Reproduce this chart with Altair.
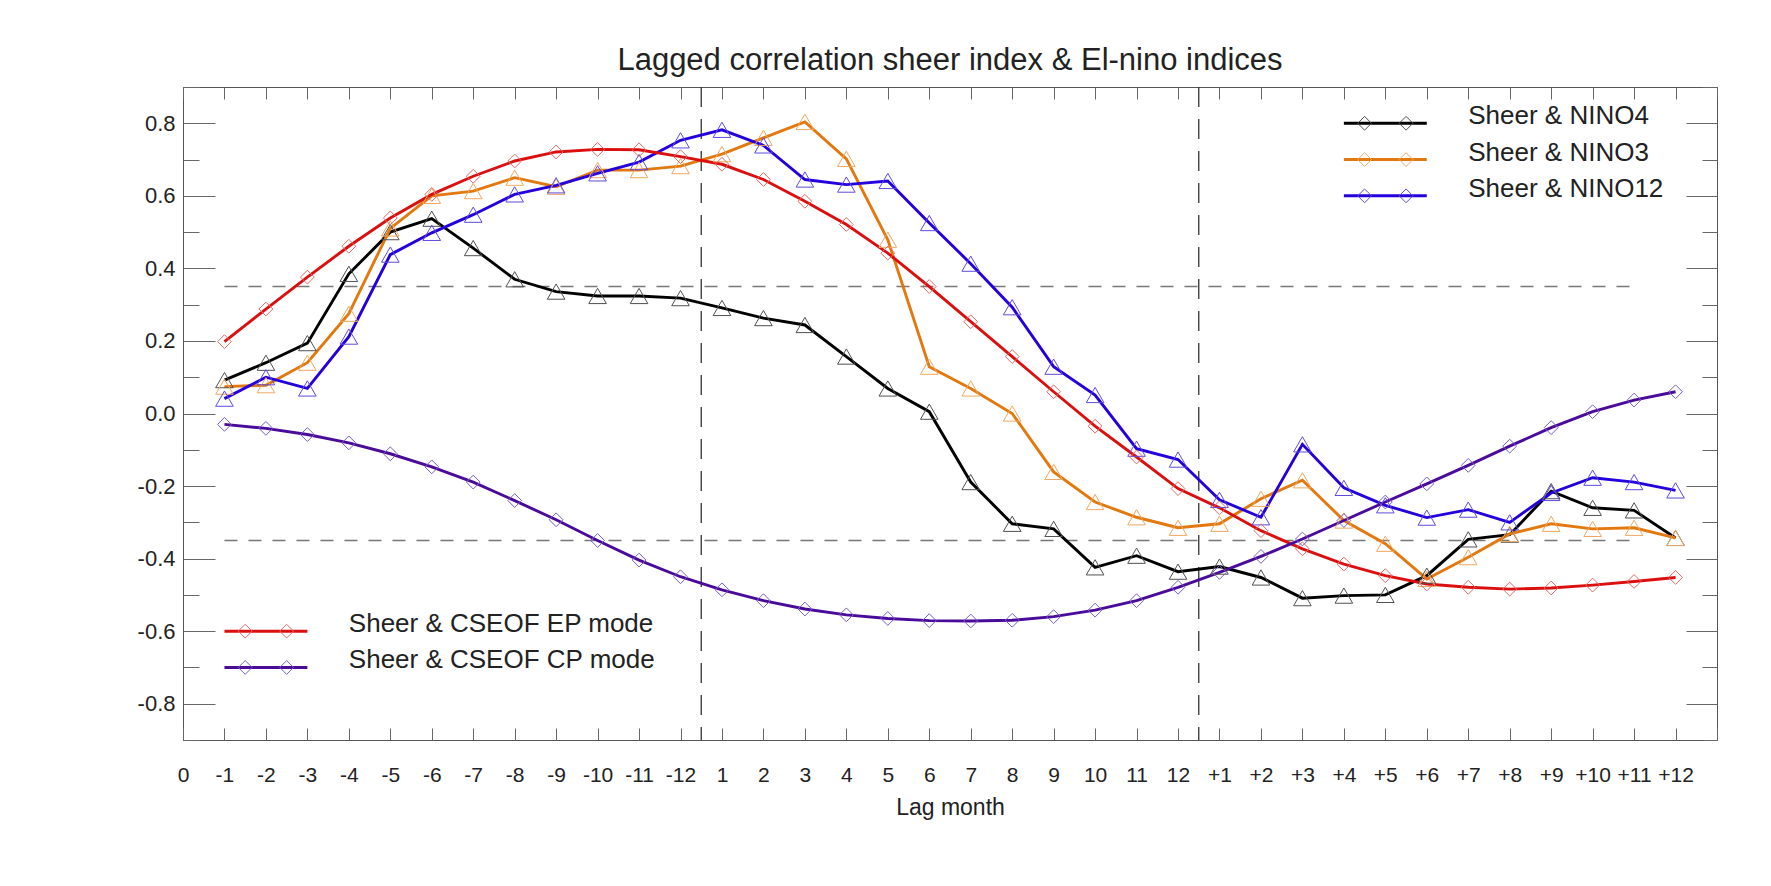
import altair as alt
import pandas as pd

# ---------------- data ----------------
TICK_LABELS = ["0",
               "-1", "-2", "-3", "-4", "-5", "-6", "-7", "-8", "-9", "-10", "-11", "-12",
               "1", "2", "3", "4", "5", "6", "7", "8", "9", "10", "11", "12",
               "+1", "+2", "+3", "+4", "+5", "+6", "+7", "+8", "+9", "+10", "+11", "+12"]

SERIES = ["Sheer & NINO4", "Sheer & NINO3", "Sheer & NINO12",
          "Sheer & CSEOF EP mode", "Sheer & CSEOF CP mode"]

NINO4 = [0.092, 0.140, 0.194, 0.385, 0.500, 0.537, 0.456, 0.370, 0.336, 0.324, 0.324, 0.318,
         0.291, 0.263, 0.244, 0.157, 0.069, 0.005, -0.189, -0.304, -0.318, -0.424, -0.392, -0.436,
         -0.422, -0.452, -0.509, -0.502, -0.500, -0.447, -0.347, -0.334, -0.214, -0.260, -0.267, -0.343]
NINO3 = [0.074, 0.078, 0.140, 0.275, 0.510, 0.600, 0.613, 0.650, 0.625, 0.671, 0.671, 0.682,
         0.715, 0.760, 0.804, 0.702, 0.479, 0.129, 0.069, 0.000, -0.161, -0.244, -0.286, -0.315,
         -0.304, -0.235, -0.184, -0.295, -0.359, -0.456, -0.396, -0.332, -0.304, -0.318, -0.315, -0.343]
NINO12 = [0.041, 0.100, 0.069, 0.212, 0.438, 0.498, 0.548, 0.604, 0.629, 0.662, 0.693, 0.753,
          0.782, 0.739, 0.645, 0.631, 0.641, 0.525, 0.413, 0.293, 0.129, 0.051, -0.097, -0.127,
          -0.238, -0.286, -0.085, -0.205, -0.253, -0.287, -0.265, -0.300, -0.219, -0.177, -0.189, -0.212]
EP_MODE = [0.198, 0.288, 0.376, 0.461, 0.539, 0.604, 0.654, 0.696, 0.721, 0.728, 0.727, 0.708,
           0.687, 0.645, 0.585, 0.521, 0.442, 0.350, 0.253, 0.157, 0.060, -0.035, -0.120, -0.207,
           -0.260, -0.323, -0.373, -0.415, -0.447, -0.470, -0.479, -0.484, -0.481, -0.473, -0.463, -0.452]
CP_MODE = [-0.030, -0.041, -0.058, -0.081, -0.111, -0.147, -0.189, -0.240, -0.293, -0.350, -0.404, -0.450,
           -0.486, -0.516, -0.539, -0.555, -0.565, -0.571, -0.572, -0.570, -0.560, -0.542, -0.516, -0.479,
           -0.438, -0.394, -0.346, -0.295, -0.244, -0.194, -0.143, -0.090, -0.039, 0.005, 0.037, 0.060]

THRESHOLDS = [0.35, -0.35]
SEPARATORS = [12.5, 24.5]
Y_MAJOR = [-0.8, -0.6, -0.4, -0.2, 0.0, 0.2, 0.4, 0.6, 0.8]
Y_MINOR = [-0.9, -0.7, -0.5, -0.3, -0.1, 0.1, 0.3, 0.5, 0.7, 0.9]
TRIANGLE_SERIES = SERIES[:3]
DIAMOND_SERIES = SERIES[3:]

# ---------------- styles / layout ----------------
FONT = "Liberation Sans"
TEXT_C = "#222222"
AXIS_C = "#555555"
LINE_COLORS = ["#000000", "#E3780F", "#2400DD", "#DC0F0F", "#4A0A9A"]
MARKER_COLORS = ["#505050", "#F0A860", "#5B4BE0", "#E06A6A", "#7A5CC8"]
W, H = 1534, 653
X_SCALE = alt.Scale(domain=[0, 37], nice=False, zero=False)
Y_SCALE = alt.Scale(domain=[-0.9, 0.9], nice=False, zero=False)

rows = []
for name, vals in zip(SERIES, [NINO4, NINO3, NINO12, EP_MODE, CP_MODE]):
    for i, v in enumerate(vals):
        rows.append({"series": name, "pos": i + 1, "lag": TICK_LABELS[i + 1], "r": v})
df = pd.DataFrame(rows)

# legend layout (in data units of the plot)
LEGEND_BLOCKS = [(SERIES[:3], 28, 0.8), (SERIES[3:], 1, -0.6)]
ROW_STEP = 0.1
leg_lines, leg_marks = [], []
for names, x0, y0 in LEGEND_BLOCKS:
    for k, nm in enumerate(names):
        y = y0 - k * ROW_STEP
        leg_lines.append({"series": nm, "x0": x0, "x1": x0 + 2, "xt": x0 + 3, "y": y})
        leg_marks.append({"series": nm, "xd": x0 + 0.5, "y": y})
        leg_marks.append({"series": nm, "xd": x0 + 1.5, "y": y})
leg_lines = pd.DataFrame(leg_lines)
leg_marks = pd.DataFrame(leg_marks)

color_scale = alt.Scale(domain=SERIES, range=LINE_COLORS)
stroke_scale = alt.Scale(domain=SERIES, range=MARKER_COLORS)

label_expr = str(TICK_LABELS).replace("'", '"') + "[datum.value]"

common_axis = dict(grid=False, domain=False, title=None)

# axes
ax_x_labels = alt.Axis(orient="bottom", values=list(range(0, 37)), labelExpr=label_expr,
                       ticks=False, tickSize=0, domain=False, grid=False, labelPadding=24,
                       labelFont=FONT, labelFontSize=21, labelColor=TEXT_C,
                       labelOverlap=False, labelFlush=False,
                       title="Lag month", titleFont=FONT, titleFontSize=23,
                       titleFontWeight="normal", titleColor=TEXT_C,
                       titleBaseline="alphabetic", titleY=74)
ax_y_labels = alt.Axis(orient="left", values=Y_MAJOR,
                       labelExpr="(datum.value < -0.001 ? '-' : '') + format(abs(datum.value), '.1f')",
                       ticks=False, tickSize=0, labelPadding=8,
                       labelFont=FONT, labelFontSize=22, labelColor=TEXT_C, **common_axis)


def tick_axis(orient, offset, values, size):
    return alt.Axis(orient=orient, offset=offset, values=values, labels=False, ticks=True,
                    tickSize=size, tickColor="#666666", tickWidth=1, **common_axis)


ax_x_bottom_ticks = tick_axis("top", -H, list(range(0, 38)), 12)
ax_x_top_ticks = tick_axis("bottom", -H, list(range(0, 38)), 12)
ax_y_left_major = tick_axis("right", -W, Y_MAJOR, 32)
ax_y_left_minor = tick_axis("right", -W, Y_MINOR, 16)
ax_y_right_major = tick_axis("left", -W, Y_MAJOR, 31)
ax_y_right_minor = tick_axis("left", -W, Y_MINOR, 15)


def carrier(xaxis, yaxis):
    return alt.Chart(df).mark_point(opacity=0).encode(
        x=alt.X("pos:Q", scale=X_SCALE, axis=xaxis),
        y=alt.Y("r:Q", scale=Y_SCALE, axis=yaxis),
    )


carriers = [
    carrier(ax_x_labels, ax_y_labels),
    carrier(ax_x_bottom_ticks, ax_y_left_major),
    carrier(ax_x_top_ticks, ax_y_left_minor),
    carrier(None, ax_y_right_major),
    carrier(None, ax_y_right_minor),
]

separators = alt.Chart(pd.DataFrame({"s": SEPARATORS})).mark_rule(
    color="#333333", strokeWidth=1.3, strokeDash=[20, 12]
).encode(x=alt.X("s:Q", scale=X_SCALE, axis=None))

thresholds = alt.Chart(pd.DataFrame({"t": THRESHOLDS})).mark_rule(
    color="#777777", strokeWidth=1.6, strokeDash=[13, 11]
).encode(
    y=alt.Y("t:Q", scale=Y_SCALE, axis=None),
    x=alt.XDatum(1, axis=None),
    x2=alt.X2Datum(35),
)

lines = alt.Chart(df).mark_line(strokeWidth=2.9).encode(
    x=alt.X("pos:Q", scale=X_SCALE, axis=None),
    y=alt.Y("r:Q", scale=Y_SCALE, axis=None),
    color=alt.Color("series:N", scale=color_scale, legend=None),
    order="pos:Q",
)

tri = alt.Chart(df).transform_filter(
    alt.FieldOneOfPredicate(field="series", oneOf=TRIANGLE_SERIES)
).mark_point(shape="triangle-up", filled=False, size=310, strokeWidth=1, opacity=1).encode(
    x=alt.X("pos:Q", scale=X_SCALE, axis=None),
    y=alt.Y("r:Q", scale=Y_SCALE, axis=None),
    stroke=alt.Stroke("series:N", scale=stroke_scale, legend=None),
)

dia = alt.Chart(df).transform_filter(
    alt.FieldOneOfPredicate(field="series", oneOf=DIAMOND_SERIES)
).mark_point(shape="diamond", filled=False, size=190, strokeWidth=1, opacity=1).encode(
    x=alt.X("pos:Q", scale=X_SCALE, axis=None),
    y=alt.Y("r:Q", scale=Y_SCALE, axis=None),
    stroke=alt.Stroke("series:N", scale=stroke_scale, legend=None),
)

leg_rule = alt.Chart(leg_lines).mark_rule(strokeWidth=3).encode(
    x=alt.X("x0:Q", scale=X_SCALE, axis=None),
    x2="x1:Q",
    y=alt.Y("y:Q", scale=Y_SCALE, axis=None),
    color=alt.Color("series:N", scale=color_scale, legend=None),
)

leg_pts = alt.Chart(leg_marks).mark_point(shape="diamond", filled=False, size=190,
                                          strokeWidth=1, opacity=1).encode(
    x=alt.X("xd:Q", scale=X_SCALE, axis=None),
    y=alt.Y("y:Q", scale=Y_SCALE, axis=None),
    stroke=alt.Stroke("series:N", scale=stroke_scale, legend=None),
)

leg_text = alt.Chart(leg_lines).mark_text(
    align="left", baseline="alphabetic", font=FONT, fontSize=26, color=TEXT_C, dy=1
).encode(
    x=alt.X("xt:Q", scale=X_SCALE, axis=None),
    y=alt.Y("y:Q", scale=Y_SCALE, axis=None),
    text="series:N",
)

chart = alt.layer(
    *carriers, separators, thresholds, lines, tri, dia, leg_rule, leg_pts, leg_text
).resolve_axis(
    x="independent", y="independent"
).properties(
    width=W,
    height=H,
    title=alt.TitleParams(text="Lagged correlation sheer index & El-nino indices",
                          font=FONT, fontSize=31, fontWeight="normal", color=TEXT_C,
                          anchor="middle", frame="group", baseline="alphabetic", offset=-15),
    padding={"left": 183, "top": 87, "right": 54, "bottom": 146},
    autosize=alt.AutoSizeParams(type="none"),
    background="white",
).configure_view(
    stroke=AXIS_C, strokeWidth=1
)

chart.save("out.html", embed_options={"renderer": "svg", "actions": False})
